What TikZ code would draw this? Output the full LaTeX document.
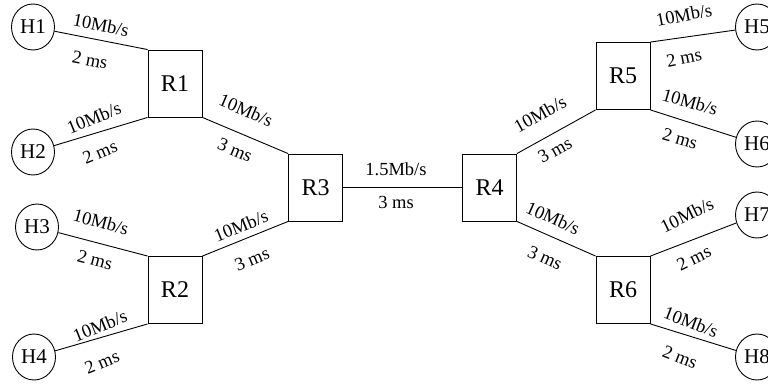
\documentclass[tikz,border=0pt]{standalone}
\usepackage{fontspec}
\setmainfont{Liberation Serif}
\usetikzlibrary{shapes.geometric}
\begin{document}
\begin{tikzpicture}[x=1pt,y=-1pt,
 host/.style={draw, ellipse, minimum width=43pt, minimum height=46pt, inner sep=0pt, font=\fontsize{21}{23}\selectfont},
 router/.style={draw, rectangle, minimum width=54pt, minimum height=67pt, inner sep=0pt, font=\fontsize{24}{26}\selectfont},
 lbl/.style={font=\fontsize{18.5}{20}\selectfont, inner sep=0pt},
 link/.style={line width=0.9pt},
 every node/.append style={line width=0.9pt}]
\useasboundingbox (0,0) rectangle (768,385);
% hosts
\node[host] (H1) at (33,27) {H1};
\node[host] (H2) at (33,152) {H2};
\node[host] (H3) at (37,227) {H3};
\node[host] (H4) at (34,357) {H4};
\node[host] (H5) at (757,27) {H5};
\node[host] (H6) at (757,144) {H6};
\node[host] (H7) at (757,215) {H7};
\node[host] (H8) at (757,357) {H8};
% routers
\node[router] (R1) at (175,83.5) {R1};
\node[router] (R2) at (175,290) {R2};
\node[router] (R3) at (315.5,187.5) {R3};
\node[router] (R4) at (489.5,187.5) {R4};
\node[router] (R5) at (623,76) {R5};
\node[router] (R6) at (623,290) {R6};
% links
\draw[link] (H1) -- (R1.north west);
\draw[link] (H2) -- (R1.south west);
\draw[link] (H3) -- (R2.north west);
\draw[link] (H4) -- (R2.south west);
\draw[link] (R1.south east) -- (R3.north west);
\draw[link] (R2.north east) -- (R3.south west);
\draw[link] (R3) -- (R4);
\draw[link] (R4.north east) -- (R5.south west);
\draw[link] (R4.south east) -- (R6.north west);
\draw[link] (R5.north east) -- (H5);
\draw[link] (R5.south east) -- (H6);
\draw[link] (R6.north east) -- (H7);
\draw[link] (R6.south east) -- (H8);
% labels
\node[lbl, rotate=-11] (l1a) at (101,25) {10Mb/s};
\node[lbl, rotate=-11] (l1b) at (90,60) {2 ms};
\node[lbl, rotate=22] (l2a) at (94,118) {10Mb/s};
\node[lbl, rotate=22] (l2b) at (100,152) {2 ms};
\node[lbl, rotate=-15] (l3a) at (101,222) {10Mb/s};
\node[lbl, rotate=-15] (l3b) at (95,260) {2 ms};
\node[lbl, rotate=22] (l4a) at (100,326) {10Mb/s};
\node[lbl, rotate=22] (l4b) at (102,362) {2 ms};
\node[lbl, rotate=-23] (l5a) at (246,110) {10Mb/s};
\node[lbl, rotate=-23] (l5b) at (235,150) {3 ms};
\node[lbl, rotate=22] (l6a) at (241,226) {10Mb/s};
\node[lbl, rotate=22] (l6b) at (252,259) {3 ms};
\node[lbl] (l7a) at (396,169) {1.5Mb/s};
\node[lbl] (l7b) at (396,202) {3 ms};
\node[lbl, rotate=29] (l8a) at (540,114) {10Mb/s};
\node[lbl, rotate=29] (l8b) at (555,150) {3 ms};
\node[lbl, rotate=-24] (l9a) at (553,218) {10Mb/s};
\node[lbl, rotate=-24] (l9b) at (545,258) {3 ms};
\node[lbl, rotate=11] (l10a) at (684,15) {10Mb/s};
\node[lbl, rotate=11] (l10b) at (684,58) {2 ms};
\node[lbl, rotate=-16] (l11a) at (690,102) {10Mb/s};
\node[lbl, rotate=-16] (l11b) at (680,139) {2 ms};
\node[lbl, rotate=26] (l12a) at (687,215) {10Mb/s};
\node[lbl, rotate=26] (l12b) at (694,258) {2 ms};
\node[lbl, rotate=-21] (l13a) at (691,322) {10Mb/s};
\node[lbl, rotate=-21] (l13b) at (680,357) {2 ms};
\end{tikzpicture}
\end{document}
